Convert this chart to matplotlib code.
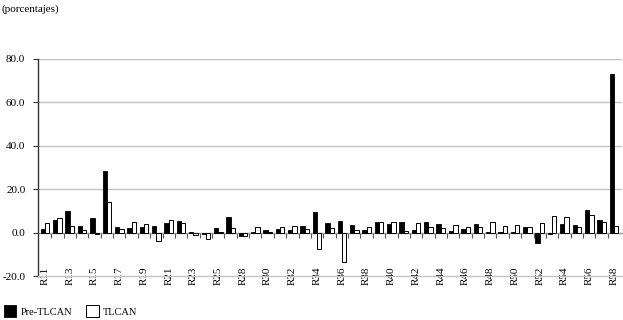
import numpy as np
import matplotlib
matplotlib.use("Agg")
import matplotlib.pyplot as plt

plt.rcParams["font.family"] = ["Liberation Serif", "DejaVu Serif"]
plt.rcParams["axes.unicode_minus"] = False

# regiones (R27 no aparece en el cuadro)
regions = [f"R{i}" for i in range(11, 27)] + [f"R{i}" for i in range(28, 59)]

pre_tlcan = [1.8, 5.7, 10.1, 3.2, 6.9, 28.2, 2.6, 2.1, 2.5, 2.9,
             4.3, 5.2, 0.5, -0.8, 2.0, 7.2, -1.7, 0.2, 1.2, 1.7,
             1.1, 3.2, 9.7, 4.6, 5.5, 3.7, 1.2, 4.9, 4.1, 4.9,
             1.1, 4.9, 4.1, 0.6, 1.5, 4.1, 0.3, 0.2, 0.2, 2.5,
             -4.8, -0.5, 4.1, 3.5, 10.6, 5.8, 73.0]
tlcan = [4.3, 6.6, 3.1, 1.2, -0.5, 14.0, 1.7, 4.9, 4.0, -3.8,
         5.8, 4.4, -0.9, -2.8, 0.3, 2.0, -1.5, 2.6, 0.3, 2.5,
         3.1, 1.7, -7.5, 2.1, -13.5, 1.4, 2.5, 4.9, 5.1, 0.6,
         4.6, 2.6, 2.1, 3.5, 2.6, 2.6, 5.1, 3.2, 3.7, 2.5,
         4.6, 7.7, 7.2, 2.8, 8.1, 4.8, 3.1]

y_ticks = [-20, 0, 20, 40, 60, 80]
y_labels = ["-20.0", "0.0", "20.0", "40.0", "60.0", "80.0"]

x = np.arange(len(regions))
w = 0.35

fig = plt.figure(figsize=(6.23, 3.2), dpi=100)
ax = fig.add_axes([38 / 623, 1 - 276 / 320, 584 / 623, 217 / 320])

# grid lines
for v in [20, 40, 60, 80]:
    ax.axhline(v, color="#c4c4c4", linewidth=1.0, zorder=0)

b1 = ax.bar(x - w / 2, pre_tlcan, w, color="black", edgecolor="black",
            linewidth=0.6, zorder=3, label="Pre-TLCAN")
b2 = ax.bar(x + w / 2, tlcan, w, color="white", edgecolor="black",
            linewidth=0.7, zorder=3, label="TLCAN")

ax.set_xlim(-0.57, 46.65)
ax.set_ylim(-20, 80)

ax.spines["top"].set_visible(False)
ax.spines["right"].set_visible(False)
ax.spines["left"].set_color("#333333")
ax.spines["left"].set_linewidth(1.0)
ax.spines["bottom"].set_color("#c4c4c4")
ax.spines["bottom"].set_linewidth(1.0)

ax.set_yticks(y_ticks, y_labels)
ax.tick_params(axis="y", direction="out", length=3.6, width=0.8,
               color="#333333", pad=5.5, labelsize=8)

# category labels centred on the -20 line
ax.set_xticks(x[::2], regions[::2])
ax.tick_params(axis="x", length=0, pad=0, labelsize=8, labelrotation=90)
for lab in ax.get_xticklabels():
    lab.set_va("center")

# zero line with separators between categories
sec = ax.secondary_xaxis(0.2)
sec.set_xticks(x[:-1] + 0.5, [])
sec.tick_params(axis="x", direction="out", length=3.6, width=0.8, color="#555555")
sec.spines["bottom"].set_color("#999999")
sec.spines["bottom"].set_linewidth(1.0)

fig.text(2 / 623, 1 - 9 / 320, "(porcentajes)", fontsize=8, va="center", ha="left")

fig.legend(handles=[b1, b2], labels=["Pre-TLCAN", "TLCAN"], loc="lower left",
           bbox_to_anchor=(0.006, 0.01), ncol=2, frameon=False, fontsize=7.5,
           borderpad=0, borderaxespad=0, handlelength=1.2, handleheight=1.3,
           handletextpad=0.45, columnspacing=1.3)

fig.savefig("out.png", dpi=100)
